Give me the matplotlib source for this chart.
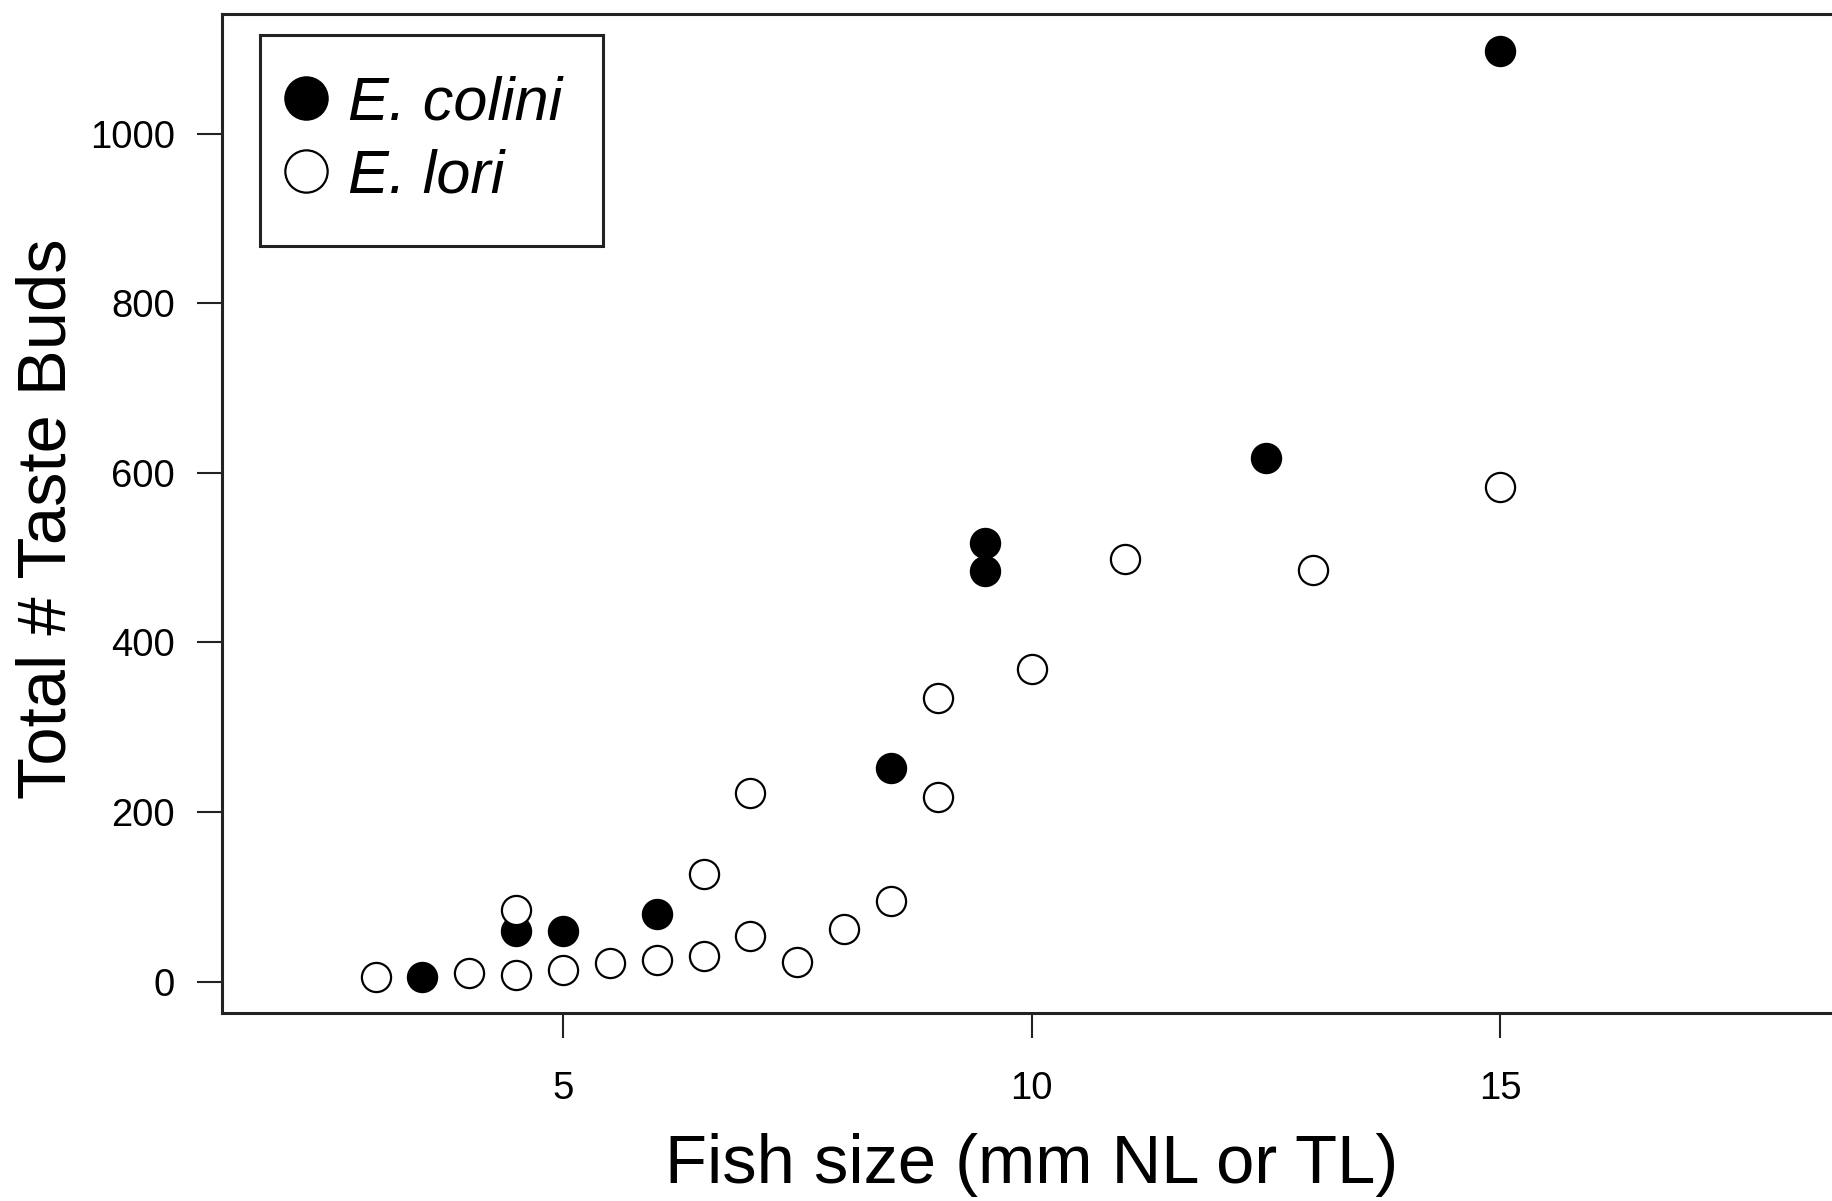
import numpy as np
from matplotlib import pyplot as plt

plt.rcParams['font.family'] = ['Liberation Sans', 'DejaVu Sans']

# E. colini (filled)
colini_size = np.array([3.5, 4.5, 5.0, 6.0, 8.5, 9.5, 9.5, 12.5, 15.0])
colini_buds = np.array([5, 60, 60, 80, 252, 517, 484, 618, 1097])

# E. lori (open)
lori_size = np.array([3.0, 4.0, 4.5, 4.5, 5.0, 5.5, 6.0, 6.5, 6.5, 7.0, 7.0,
                      7.5, 8.0, 8.5, 9.0, 9.0, 10.0, 11.0, 13.0, 15.0])
lori_buds = np.array([5, 10, 8, 85, 14, 22, 26, 30, 127, 54, 223,
                      23, 62, 95, 218, 335, 369, 498, 485, 583])

x_ticks = [5, 10, 15]
y_ticks = [0, 200, 400, 600, 800, 1000]

fig = plt.figure(figsize=(18.33, 12.01), dpi=100)
ax = fig.add_axes([0.1211, 0.1565, 0.8833, 0.8318])

ax.plot(colini_size, colini_buds, ls='none', marker='o', ms=21,
        mfc='black', mec='black', mew=1.6, label='E. colini', clip_on=False)
ax.plot(lori_size, lori_buds, ls='none', marker='o', ms=21,
        mfc='white', mec='black', mew=1.6, label='E. lori', clip_on=False)

ax.set_xlim(1.36, 18.64)
ax.set_ylim(-37, 1141)
ax.set_xticks(x_ticks)
ax.set_yticks(y_ticks)
ax.tick_params(axis='both', direction='out', length=18, width=1.5,
               labelsize=27.5, color='#222222')
ax.tick_params(axis='x', pad=24)
ax.tick_params(axis='y', pad=16)
for s in ax.spines.values():
    s.set_linewidth(2.2)
    s.set_color('#222222')

ax.set_xlabel('Fish size (mm NL or TL)', fontsize=49.5)
ax.xaxis.label.set_va('center')
ax.xaxis.set_label_coords(0.5, -0.152)
ax.set_ylabel('Total # Taste Buds', fontsize=49.5)
ax.yaxis.label.set_va('center')
ax.yaxis.set_label_coords(-0.1075, 0.495)

leg = ax.legend(loc='upper left', bbox_to_anchor=(0.0235, 0.979),
                borderaxespad=0, fancybox=False, framealpha=1,
                edgecolor='#222222', markerscale=1.45, handlelength=0.2,
                handletextpad=0.58, borderpad=0.66, labelspacing=0.26,
                prop={'size': 44, 'style': 'italic'})
leg.get_frame().set_linewidth(2.2)

fig.savefig('out.png', dpi=100)
